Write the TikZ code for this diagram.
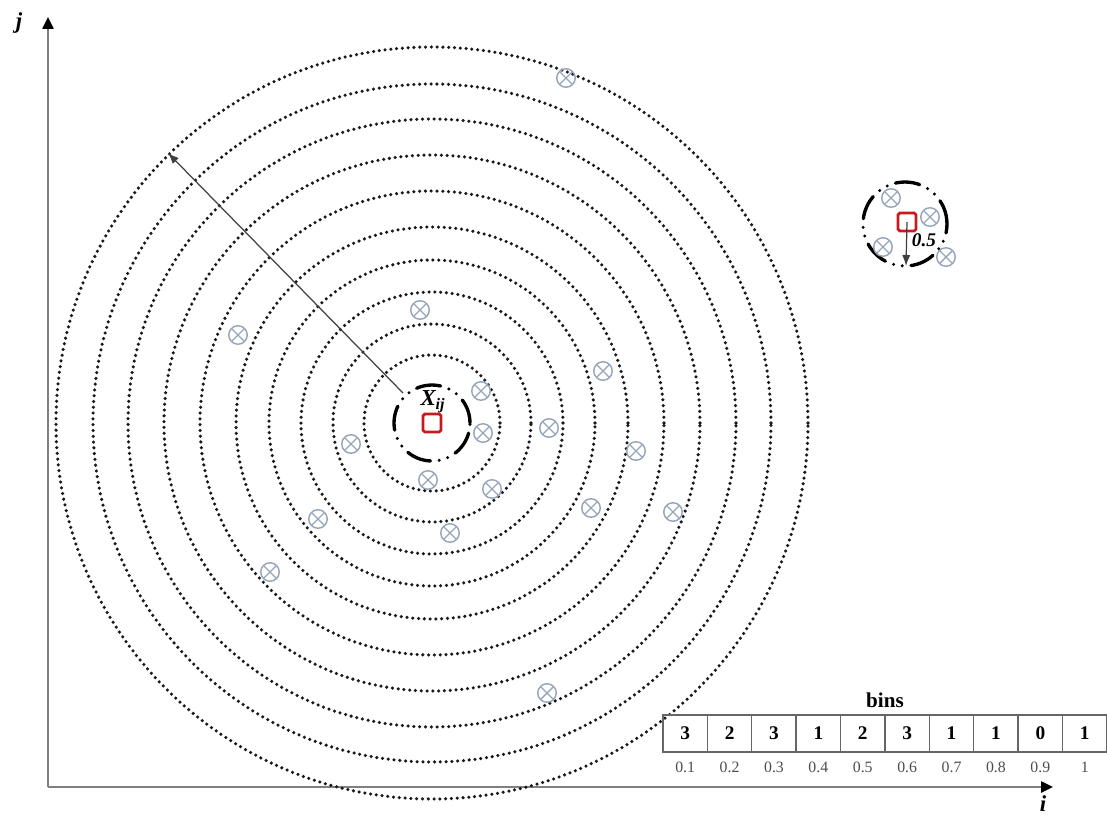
\documentclass[tikz,border=0pt]{standalone}
\usepackage{fontspec}
\setmainfont{Liberation Serif}
\usetikzlibrary{arrows.meta,positioning}

\definecolor{ptblue}{RGB}{150,165,185}
\definecolor{qred}{RGB}{200,25,35}

\begin{document}
\begin{tikzpicture}[
    x=0.02cm, y=-0.02cm,
    ring/.style={draw=black!90, line width=2pt, line cap=round, dash pattern=on 0pt off 3.3pt},
    near/.style={draw=black, line width=1.9pt, line cap=round, dash pattern=on 14pt off 5pt on 0pt off 5pt on 0pt off 5pt},
    pt/.style={circle, draw=ptblue, line width=0.8pt, minimum size=0.37cm, inner sep=0pt,
      path picture={\draw[ptblue, line width=0.8pt] (path picture bounding box.north west) -- (path picture bounding box.south east)
        (path picture bounding box.north east) -- (path picture bounding box.south west);}},
    query/.style={draw=qred, line width=1.6pt, rounded corners=1pt, minimum size=0.36cm, inner sep=0pt},
    axis/.style={draw=black!50, line width=1.4pt, -{Triangle[length=2.4mm, width=2.2mm, color=black]}},
    radius arrow/.style={draw=black!75, line width=0.7pt, -{Latex[length=2.2mm]}},
    axlab/.style={font=\fontsize{13}{15}\selectfont\bfseries\itshape},
    bincell/.style={draw=black!60, line width=0.8pt, minimum width=0.888cm, minimum height=0.74cm,
      inner sep=0pt, outer sep=0pt, font=\fontsize{11}{13}\selectfont\bfseries},
    binval/.style={font=\fontsize{9}{11}\selectfont, text=black!70, inner sep=0pt}
  ]
    \useasboundingbox (0,0) rectangle (1107,818);

    % axes
    \coordinate (o) at (48,787);
    \coordinate (ytop) at (48,17);
    \coordinate (xend) at (1053,787);
    \draw[axis] (o) -- (ytop);
    \draw[axis] (o) -- (xend);
    \node[axlab] (jlab) at (19,23) {j};
    \node[axlab] (ilab) at (1043,804) {i};

    % rings round the query point
    \coordinate (ctr) at (432,423);
    \foreach \r in {68,99,131,163,196,232,268,304,339,376}
      \draw[ring] (ctr) circle [radius=\r*0.02cm];
    \draw[near] (ctr) circle [radius=0.76cm];
    \node[query] (xq) at (ctr) {};
    \node[font=\fontsize{13}{15}\selectfont\bfseries\itshape] (xlab) at (433,402) {X\textsubscript{ij}};

    \coordinate (rfoot) at (403,393);
    \coordinate (rtip) at (168,153);
    \draw[radius arrow] (rfoot) -- (rtip);

    % isolated point
    \coordinate (ctr2) at (905,224);
    \draw[near] (ctr2) circle [radius=0.84cm];
    \node[query] (xq2) at (907,222) {};
    \coordinate (r2) at (906,266);
    \draw[radius arrow] (xq2.center) -- (r2);
    \node[font=\fontsize{11}{13}\selectfont\bfseries\itshape] (half) at (924,240) {0.5};

    % neighbours
    \foreach \p [count=\i] in {(566,78),(420,310),(238,335),(603,371),(481,391),(483,433),
        (549,428),(351,444),(636,451),(428,480),(492,489),(591,508),(673,512),(318,519),
        (450,533),(270,572),(547,693),(891,198),(930,217),(883,247),(946,257)}
      \node[pt] (p\i) at \p {};

    % histogram
    \node[font=\fontsize{12}{14}\selectfont\bfseries] (binslab) at (885,700) {bins};
    \node[bincell] (b1) at (685.2,733.5) {3};
    \foreach \n [count=\i from 2, remember=\i as \j (initially 1)] in {2,3,1,2,3,1,1,0,1}
      \node[bincell, right=0pt of b\j] (b\i) {\n};
    \foreach \v [count=\i] in {0.1,0.2,0.3,0.4,0.5,0.6,0.7,0.8,0.9,1}
      \node[binval, below=0.2cm of b\i] (v\i) {\v};
  \end{tikzpicture}
\end{document}
